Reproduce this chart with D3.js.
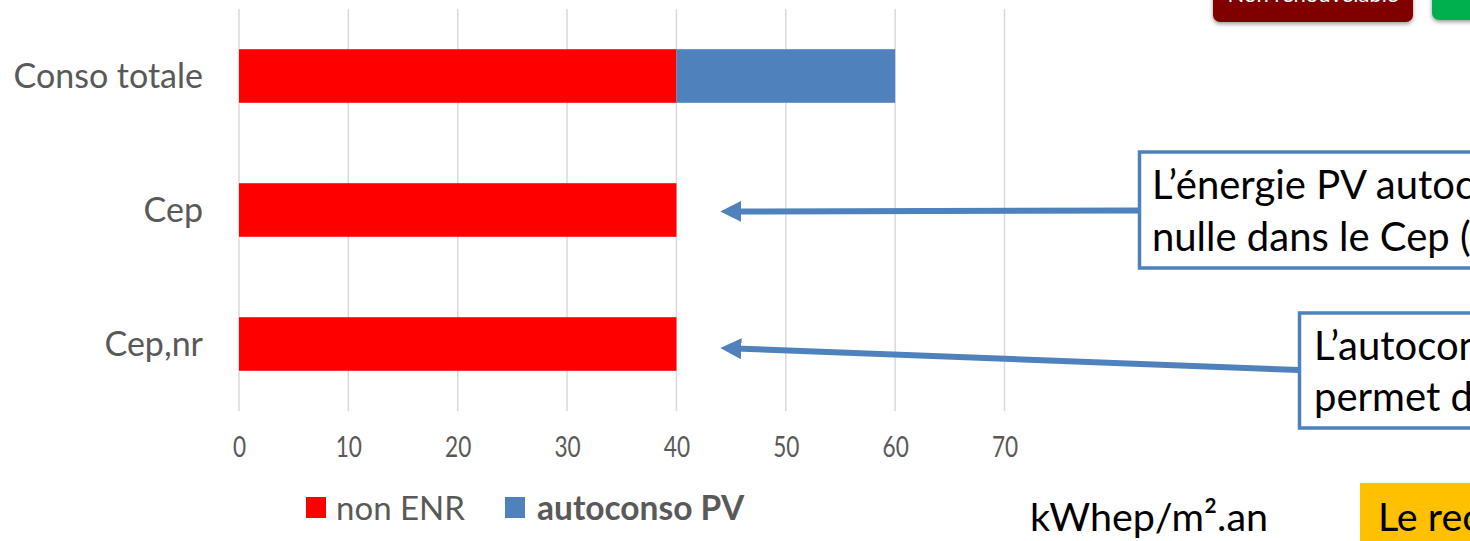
<!DOCTYPE html>
<html><head><meta charset="utf-8">
<script src="https://cdn.jsdelivr.net/npm/d3@7"></script>
<style>
html,body{margin:0;padding:0;background:#fff;overflow:hidden}
svg{display:block;font-family:Lato,"Open Sans",sans-serif}
</style></head>
<body>
<svg id="c" width="1470" height="541"></svg>
<script>
const categories = ["Conso totale", "Cep", "Cep,nr"];
const seriesNames = ["non ENR", "autoconso PV"];
const nonENR = [40, 40, 40];
const autoconsoPV = [20, 0, 0];
const xTicks = [0, 10, 20, 30, 40, 50, 60, 70];
const colors = ["#ff0000", "#4f81bd"];

const svg = d3.select("#c");
const x = d3.scaleLinear().domain([0, 70]).range([239, 1004.5]);
const y = d3.scaleBand().domain(categories).range([9, 411]).paddingInner(0.6).paddingOuter(0.3);

// gridlines
svg.append("g").selectAll("line").data(xTicks).join("line")
  .attr("x1", d => x(d)).attr("x2", d => x(d))
  .attr("y1", 9).attr("y2", 411)
  .attr("stroke", "#d9d9d9").attr("stroke-width", 1.5);

// stacked bars
const rows = categories.map((c, i) => ({cat: c, "non ENR": nonENR[i], "autoconso PV": autoconsoPV[i]}));
const stack = d3.stack().keys(seriesNames)(rows);
svg.append("g").selectAll("g").data(stack).join("g")
  .attr("fill", (d, i) => colors[i])
  .selectAll("rect").data(d => d).join("rect")
  .attr("x", d => x(d[0])).attr("width", d => x(d[1]) - x(d[0]))
  .attr("y", d => y(d.data.cat)).attr("height", y.bandwidth());

// x axis labels
const xAxis = d3.axisBottom(x).tickValues(xTicks).tickSize(0).tickPadding(0);
const gx = svg.append("g").attr("transform", "translate(0,436)").call(xAxis);
gx.select(".domain").remove();
gx.selectAll("text").attr("font-size", 29).attr("fill", "#595959").attr("font-family", "Lato,sans-serif")
  .attr("dy", "0.71em").attr("transform", "scale(0.78,1)");

// y axis labels
const yAxis = d3.axisLeft(y).tickSize(0).tickPadding(0);
const gy = svg.append("g").attr("transform", "translate(203,0)").call(yAxis);
gy.select(".domain").remove();
gy.selectAll("text").attr("font-size", 34).attr("fill", "#595959").attr("font-family", "Lato,sans-serif").attr("dy", "0.35em");

// legend
const leg = svg.append("g");
leg.append("rect").attr("x", 306).attr("y", 497).attr("width", 20).attr("height", 21).attr("fill", colors[0]);
leg.append("text").attr("x", 336).attr("y", 520).attr("font-size", 33).attr("fill", "#595959").text(seriesNames[0]);
leg.append("rect").attr("x", 505).attr("y", 497).attr("width", 20).attr("height", 21).attr("fill", colors[1]);
leg.append("text").attr("x", 537).attr("y", 520).attr("font-size", 33.5).attr("font-weight", "bold").attr("fill", "#595959").text(seriesNames[1]);

// top buttons (partially visible)
const defs = svg.append("defs");
const f = defs.append("filter").attr("id", "sh").attr("x", "-10%").attr("y", "-50%").attr("width", "120%").attr("height", "200%");
f.append("feDropShadow").attr("dx", 0).attr("dy", 2).attr("stdDeviation", 2).attr("flood-color", "#000").attr("flood-opacity", 0.4);
svg.append("rect").attr("x", 1213).attr("y", -30).attr("width", 200).attr("height", 52).attr("rx", 7).attr("fill", "#800000").attr("filter", "url(#sh)");
svg.append("text").attr("x", 1313).attr("y", 2).attr("text-anchor", "middle").attr("font-size", 22).attr("fill", "#fff").text("Non renouvelable");
svg.append("rect").attr("x", 1432).attr("y", -30).attr("width", 80).attr("height", 50).attr("rx", 7).attr("fill", "#00b050").attr("filter", "url(#sh)");

// arrows
const mk = defs.append("marker").attr("id", "ah").attr("viewBox", "0 0 10 10").attr("refX", 3).attr("refY", 5)
  .attr("markerWidth", 3.5).attr("markerHeight", 3.5).attr("orient", "auto").attr("markerUnits", "strokeWidth");
mk.append("path").attr("d", "M0,0 L10,5 L0,10 Z").attr("fill", "#4f81bd");
svg.append("line").attr("x1", 1140).attr("y1", 210.5).attr("x2", 735).attr("y2", 211.5)
  .attr("stroke", "#4f81bd").attr("stroke-width", 6).attr("marker-end", "url(#ah)");
svg.append("line").attr("x1", 1299).attr("y1", 370).attr("x2", 735).attr("y2", 348.5)
  .attr("stroke", "#4f81bd").attr("stroke-width", 6).attr("marker-end", "url(#ah)");

// callout boxes
svg.append("rect").attr("x", 1139.5).attr("y", 152).attr("width", 400).attr("height", 116).attr("fill", "#fff").attr("stroke", "#4f81bd").attr("stroke-width", 3.5);
svg.append("text").attr("x", 1152).attr("y", 199).attr("font-size", 40).attr("fill", "#000").text("L’énergie PV autoconsommée est");
svg.append("text").attr("x", 1152).attr("y", 251).attr("font-size", 40).attr("fill", "#000").text("nulle dans le Cep (...)");
svg.append("rect").attr("x", 1299.5).attr("y", 313).attr("width", 300).attr("height", 115).attr("fill", "#fff").attr("stroke", "#4f81bd").attr("stroke-width", 3.5);
svg.append("text").attr("x", 1314).attr("y", 360).attr("font-size", 40).attr("fill", "#000").text("L’autoconsommation");
svg.append("text").attr("x", 1314).attr("y", 411).attr("font-size", 40).attr("fill", "#000").text("permet de");

// unit label & yellow box
svg.append("text").attr("x", 1030).attr("y", 531).attr("font-size", 39.5).attr("fill", "#000").text("kWhep/m².an");
svg.append("rect").attr("x", 1360).attr("y", 483).attr("width", 120).attr("height", 60).attr("fill", "#ffc000");
svg.append("text").attr("x", 1378).attr("y", 531).attr("font-size", 39.5).attr("fill", "#000").text("Le recours");
</script>
</body></html>
